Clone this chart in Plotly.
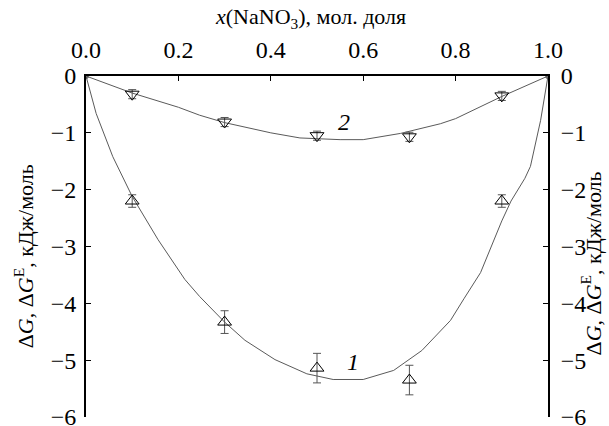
import plotly.graph_objects as go

# ---- data ----
# Curve 1: smooth (fitted) line
curve1_x = [0, 0.022, 0.058, 0.1, 0.156, 0.214, 0.246, 0.3, 0.344, 0.409, 0.478,
            0.535, 0.6, 0.666, 0.727, 0.789, 0.818, 0.854, 0.9, 0.92, 0.95, 0.962, 0.984, 1.0]
curve1_y = [0, -0.66, -1.42, -2.12, -2.88, -3.58, -3.88, -4.33, -4.65, -4.99, -5.24,
            -5.34, -5.34, -5.18, -4.83, -4.30, -3.92, -3.46, -2.55, -2.20, -1.80, -1.59, -0.78, 0]
# Curve 1: experimental points (ΔG) with error bars
pts1_x = [0.1, 0.3, 0.5, 0.7, 0.9]
pts1_y = [-2.20, -4.33, -5.14, -5.35, -2.20]
err1 = [0.11, 0.20, 0.26, 0.26, 0.11]

# Curve 2: smooth (fitted) line
curve2_x = [0, 0.1, 0.2, 0.246, 0.3, 0.4, 0.463, 0.5, 0.55, 0.6, 0.681, 0.767, 0.8, 0.9, 1.0]
curve2_y = [0, -0.30, -0.55, -0.69, -0.82, -1.00, -1.09, -1.10, -1.12, -1.12, -1.01, -0.84, -0.75, -0.36, 0]
# Curve 2: experimental points (ΔG^E) with error bars
pts2_x = [0.1, 0.3, 0.5, 0.7, 0.9]
pts2_y = [-0.32, -0.81, -1.05, -1.07, -0.35]
err2 = [0.08, 0.08, 0.08, 0.08, 0.08]

end_x = [0.0, 1.0]
end_y = [0.0, 0.0]

x_ticks = [0.0, 0.2, 0.4, 0.6, 0.8, 1.0]
y_ticks = [0, -1, -2, -3, -4, -5, -6]

FONT = "Liberation Serif"
LINE_COLOR = "#5a5a5a"

fig = go.Figure()
fig.add_trace(go.Scatter(x=curve1_x, y=curve1_y, mode="lines",
                         line=dict(color=LINE_COLOR, width=1), showlegend=False))
fig.add_trace(go.Scatter(x=curve2_x, y=curve2_y, mode="lines",
                         line=dict(color=LINE_COLOR, width=1), showlegend=False))
fig.add_trace(go.Scatter(x=pts1_x, y=pts1_y, mode="markers",
                         marker=dict(symbol="triangle-up-open", size=12, color="black",
                                     line=dict(width=1)),
                         error_y=dict(type="data", array=err1, color="#555555",
                                      thickness=1, width=4),
                         showlegend=False))
fig.add_trace(go.Scatter(x=pts2_x, y=pts2_y, mode="markers",
                         marker=dict(symbol="triangle-down-open", size=12, color="black",
                                     line=dict(width=1)),
                         error_y=dict(type="data", array=err2, color="#555555",
                                      thickness=1, width=4),
                         showlegend=False))
fig.add_trace(go.Scatter(x=end_x, y=end_y, mode="markers",
                         marker=dict(symbol="square-open", size=4, color="#444444",
                                     line=dict(width=1)),
                         showlegend=False))
# invisible trace so that the mirrored right axis is drawn
fig.add_trace(go.Scatter(x=[0, 1], y=[0, -6], yaxis="y2", mode="markers",
                         marker=dict(opacity=0), hoverinfo="skip", showlegend=False))

tickfont = dict(family=FONT, size=24, color="black")
common_axis = dict(ticks="inside", ticklen=5, tickwidth=1, tickcolor="black",
                   showline=True, linewidth=2, linecolor="black",
                   showgrid=False, zeroline=False, tickfont=tickfont,
                   ticklabeloverflow="allow", automargin=False)
fig.update_layout(
    width=609, height=426,
    margin=dict(l=86, r=61, t=76, b=9, autoexpand=False),
    paper_bgcolor="white", plot_bgcolor="white",
    font=dict(family=FONT, size=24, color="black"),
    xaxis=dict(range=[0, 1], side="top", tickvals=x_ticks, tickformat=".1f",
               mirror=False, ticklabelstandoff=6, **common_axis),
    yaxis=dict(range=[-6, 0], tickvals=y_ticks, ticklabelstandoff=3, **common_axis),
    yaxis2=dict(range=[-6, 0], tickvals=y_ticks, overlaying="y", side="right",
                ticklabelstandoff=6, **common_axis),
)

ytitle = "Δ<i>G</i>, Δ<i>G</i><sup>E</sup>, кДж/моль"
fig.add_annotation(text="<i>x</i>(NaNO<sub>3</sub>), мол. доля", xref="x", yref="paper",
                   x=0.485, y=1.171, xanchor="center", yanchor="middle", showarrow=False,
                   font=dict(family=FONT, size=22, color="black"))
fig.add_annotation(text=ytitle, xref="paper", yref="paper", x=-0.135, y=0.47,
                   textangle=-90, xanchor="center", yanchor="middle", showarrow=False,
                   font=dict(family=FONT, size=22, color="black"))
fig.add_annotation(text=ytitle, xref="paper", yref="paper", x=1.093, y=0.45,
                   textangle=-90, xanchor="center", yanchor="middle", showarrow=False,
                   font=dict(family=FONT, size=22, color="black"))
fig.add_annotation(text="<i>1</i>", x=0.577, y=-5.03, xref="x", yref="y", showarrow=False,
                   font=dict(family=FONT, size=24, color="black"))
fig.add_annotation(text="<i>2</i>", x=0.559, y=-0.81, xref="x", yref="y", showarrow=False,
                   font=dict(family=FONT, size=24, color="black"))

fig.write_html("out.html")
